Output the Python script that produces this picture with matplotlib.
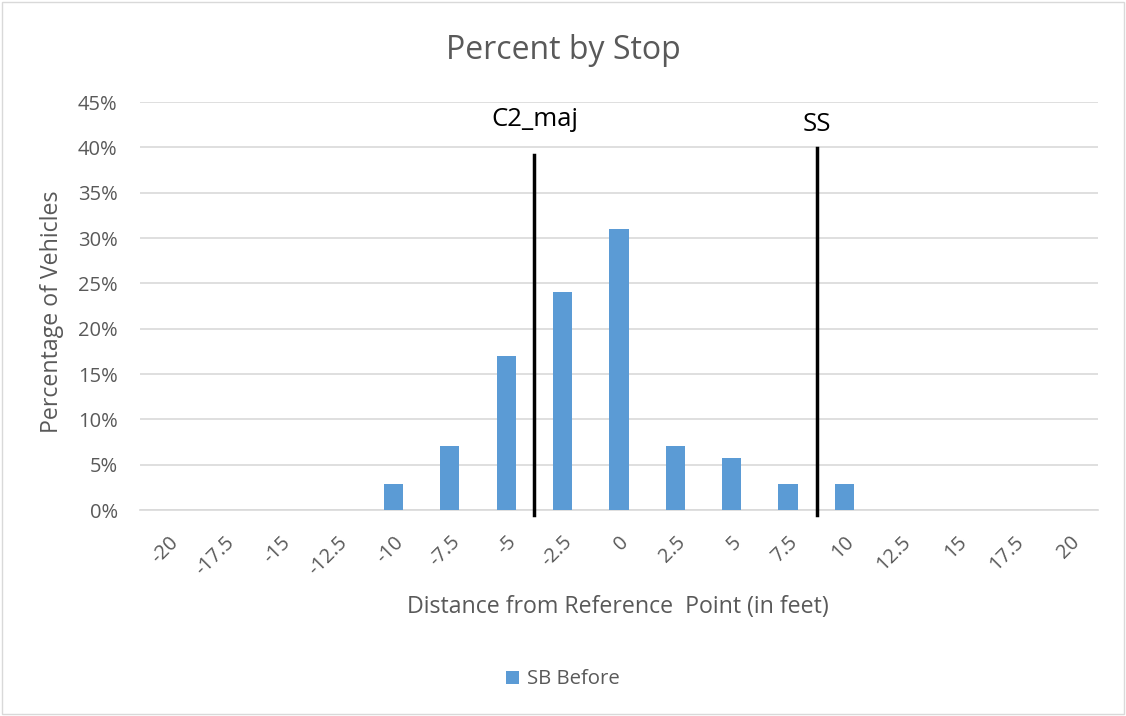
import numpy as np
import matplotlib.pyplot as plt
from matplotlib.patches import Rectangle

plt.rcParams['font.family'] = ['Open Sans', 'DejaVu Sans']

# Datos
distancias = ['-20', '-17.5', '-15', '-12.5', '-10', '-7.5', '-5', '-2.5', '0',
              '2.5', '5', '7.5', '10', '12.5', '15', '17.5', '20']
sb_before = [0, 0, 0, 0, 2.9, 7.1, 17.0, 24.0, 31.0, 7.1, 5.7, 2.9, 2.9, 0, 0, 0, 0]
marcas = ['C2_maj', 'SS']
marcas_pos = [-3.75, 8.8]   # en pies
marcas_top = [39.2, 39.9]   # porcentaje
marcas_texto_y = [43.1, 42.5]

gris = '#595959'
azul = '#5b9bd5'

fig = plt.figure(figsize=(11.26, 7.16), dpi=100)
ax = fig.add_axes([0.1243, 0.2877, 0.8508, 0.5698])

x = np.arange(len(distancias))
ax.bar(x, sb_before, width=0.34, color=azul, label='SB Before', zorder=3)

ax.set_ylim(0, 45)
ax.set_xlim(-0.5, len(distancias) - 0.5)
ax.set_yticks(np.arange(0, 46, 5))
ax.set_yticklabels([f'{v}%' for v in range(0, 46, 5)], fontsize=14.5, color=gris)
ax.set_xticks(x)
ax.set_xticklabels(distancias, rotation=45, ha='right', va='top',
                   rotation_mode='anchor', fontsize=14.5, color=gris)
ax.tick_params(axis='y', length=0, pad=16)
ax.tick_params(axis='x', length=0, pad=16)
ax.grid(axis='y', color='#d9d9d9', linewidth=1.2, zorder=0)
for s in ['top', 'right', 'left']:
    ax.spines[s].set_visible(False)
ax.spines['bottom'].set_color('#d9d9d9')
ax.spines['bottom'].set_linewidth(1.2)

# Lineas verticales de referencia
paso = 2.5
for nombre, pos, top, ty in zip(marcas, marcas_pos, marcas_top, marcas_texto_y):
    xi = (pos + 20) / paso
    ax.plot([xi, xi], [-0.55, top], color='black', linewidth=2.5,
            clip_on=False, zorder=4)
    ax.text(xi, ty, nombre, ha='center', va='center', fontsize=18.5,
            color='black')

fig.text(0.5, 0.929, 'Percent by Stop', ha='center', va='center',
         fontsize=23, color=gris)
fig.text(0.549, 0.152, 'Distance from Reference  Point (in feet)', ha='center',
         va='center', fontsize=16.7, color=gris)
fig.text(0.046, 0.564, 'Percentage of Vehicles', ha='center', va='center',
         rotation=90, fontsize=16.7, color=gris)

leg = ax.legend(loc='center', bbox_to_anchor=(0.5, 0.051),
                bbox_transform=fig.transFigure, frameon=False, fontsize=14.7,
                handlelength=0.6, handleheight=0.6, handletextpad=0.4)
for t in leg.get_texts():
    t.set_color(gris)

fig.patches.append(Rectangle((0.002, 0.003), 0.996, 0.994, transform=fig.transFigure,
                             fill=False, edgecolor='#d9d9d9', linewidth=1))

fig.savefig('out.png', dpi=100)
